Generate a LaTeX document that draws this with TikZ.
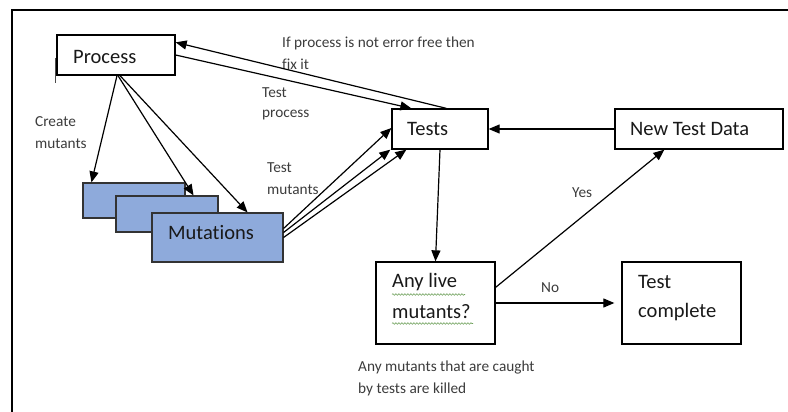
\documentclass[tikz,border=0pt]{standalone}
\usepackage{fontspec}
\setmainfont{Carlito}[Ligatures=NoCommon]
\usetikzlibrary{arrows.meta,calc,decorations.pathmorphing}
\definecolor{mutblue}{RGB}{142,170,219}
\definecolor{labgray}{RGB}{60,60,60}
\definecolor{boxtext}{RGB}{25,25,25}
\definecolor{squig}{RGB}{110,160,90}
\tikzset{
  box/.style={draw=black, line width=1.3pt, fill=white, inner sep=0pt, rectangle},
  mutbox/.style={draw=black!80, line width=1.1pt, fill=mutblue, inner sep=0pt, rectangle},
  boxlabel/.style={anchor=west, inner sep=0pt, text=boxtext, font=\fontsize{20.5}{24}\selectfont},
  note/.style={anchor=west, inner sep=0pt, text=labgray, font=\fontsize{15.3}{21}\selectfont},
  conn/.style={line width=1.2pt, -{Triangle[length=11pt,width=9pt]}},
  wavy/.style={squig, line width=0.6pt, decorate, decoration={snake, amplitude=0.8pt, segment length=3pt}}
}
\begin{document}
\begin{tikzpicture}[x=1pt,y=-1pt]
\useasboundingbox (0,0) rectangle (788,412);
% frame
\draw[line width=1.5pt] (12,412) -- (12,10) -- (788,10);
% stray mark left of Process
\draw[line width=0.8pt, black!70] (55,58) -- (55,83);

% boxes
\node[box, minimum width=118pt, minimum height=40pt] (process) at (116,55) {};
\node[box, minimum width=96pt, minimum height=40pt] (tests) at (440,129) {};
\node[box, minimum width=168pt, minimum height=40pt] (newdata) at (699,129) {};
\node[box, minimum width=119pt, minimum height=82pt] (anylive) at (435.5,303) {};
\node[box, minimum width=119pt, minimum height=82pt] (complete) at (681.5,303) {};
\node[mutbox, minimum width=102pt, minimum height=35pt] (mut1) at (134,200.5) {};
\node[mutbox, minimum width=102pt, minimum height=36pt] (mut2) at (167,214) {};
\node[mutbox, minimum width=131pt, minimum height=49pt] (mut3) at (217.5,237.5) {};

% box texts
\node[boxlabel] (tprocess) at (73,57) {Process};
\node[boxlabel] (ttests) at (407,129) {Tests};
\node[boxlabel] (tnewdata) at (630,129) {New Test Data};
\node[boxlabel] (tany1) at (392,282) {Any live};
\node[boxlabel] (tany2) at (392,312) {mutants?};
\node[boxlabel] (tcomp1) at (638,282) {Test};
\node[boxlabel] (tcomp2) at (638,312) {complete};
\node[boxlabel] (tmut) at (168,233) {Mutations};

% spell-check squiggles
\draw[wavy] (392,294.5) -- (465,294.5);
\draw[wavy] (392,323.5) -- (473,323.5);

% notes
\node[note] (n1) at (282,43) {If process is not error free then};
\node[note] (n2) at (282,64) {fix it};
\node[note] (n3) at (262,93) {Test};
\node[note] (n4) at (262,115) {process};
\node[note] (n5) at (35,122) {Create};
\node[note] (n6) at (35,144) {mutants};
\node[note] (n7) at (267,168) {Test};
\node[note] (n8) at (267,190) {mutants};
\node[note] (n9) at (572,193) {Yes};
\node[note] (n10) at (541,288) {No};
\node[note] (n11) at (358,368) {Any mutants that are caught};
\node[note] (n12) at (358,389) {by tests are killed};

% connectors
\draw[conn] ($(tests.north west)+(55,0)$) -- ($(process.north east)+(0,8)$);
\draw[conn] (process.east) -- ($(tests.north west)+(20,0)$);
\draw[conn] ($(process.south)+(1,0)$) -- ($(mut1.north west)+(9,0)$);
\draw[conn] ($(process.south)+(2,0)$) -- ($(mut2.north east)+(-25,0)$);
\draw[conn] ($(process.south)+(4,0)$) -- ($(mut3.north east)+(-36,0)$);
\draw[conn] ($(mut3.east)+(0,-9)$) -- ($(tests.west)+(0,-1)$);
\draw[conn] ($(mut3.east)+(0,-5)$) -- ($(tests.south west)+(-1,0)$);
\draw[conn] ($(mut3.east)+(0,0)$) -- ($(tests.south west)+(15,0)$);
\draw[conn] (newdata.west) -- (tests.east);
\draw[conn] (tests.south) -- (anylive.north);
\draw[conn] ($(anylive.north east)+(0,26)$) -- ($(newdata.south west)+(50,0)$);
\draw[conn, shorten >=7pt] (anylive.east) -- (complete.west);
\end{tikzpicture}
\end{document}
